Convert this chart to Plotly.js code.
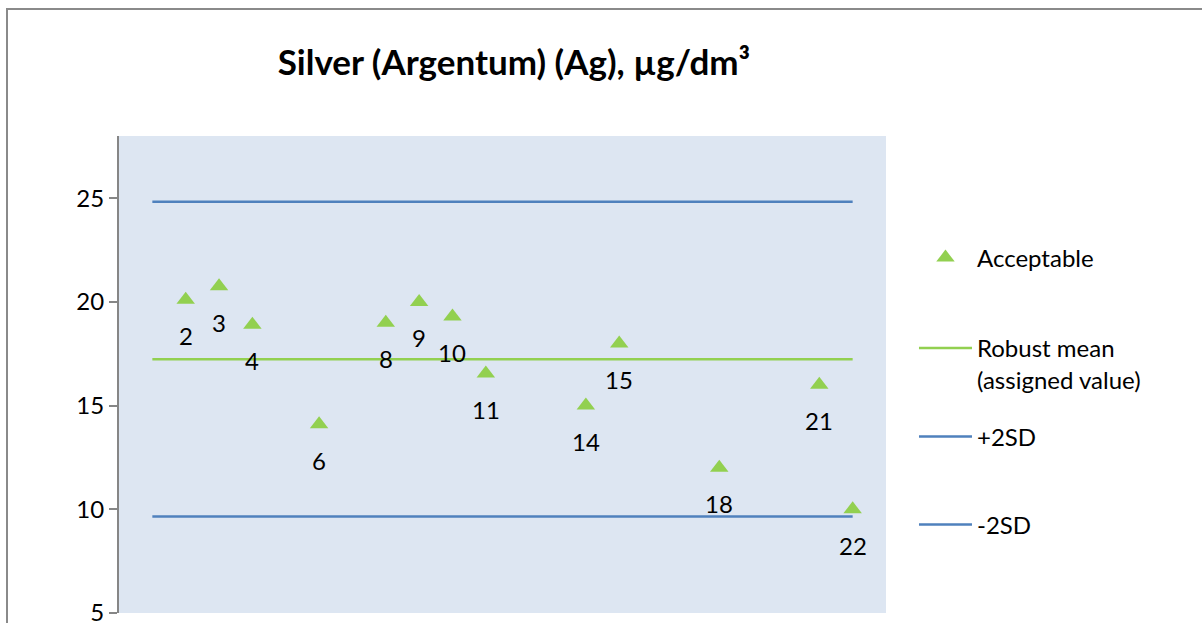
<!DOCTYPE html>
<html>
<head>
<meta charset="utf-8">
<script src="https://cdn.plot.ly/plotly-3.0.1.min.js"></script>
<style>
  html, body { margin: 0; padding: 0; background: #ffffff; overflow: hidden; }
  #wrap { position: relative; width: 1202px; height: 623px; }
  #chart { position: absolute; left: 0; top: 0; width: 1202px; height: 623px; }
  #frame { position: absolute; left: 6px; top: 8px; width: 1300px; height: 700px;
           border-left: 2px solid #8a8a8a; border-top: 2px solid #8a8a8a; pointer-events: none; }
</style>
</head>
<body>
<div id="wrap">
  <div id="chart"></div>
  <div id="frame"></div>
</div>
<script>
// ---- data ----
const labNumbers = [2, 3, 4, 6, 8, 9, 10, 11, 14, 15, 18, 21, 22];
const labValues  = [20.1, 20.75, 18.9, 14.1, 19.0, 20.0, 19.3, 16.55, 15.0, 18.0, 12.0, 16.0, 10.0];
const labTexts   = ["2", "3", "4", "6", "8", "9", "10", "11", "14", "15", "18", "21", "22"];
const lineX      = [1, 22];
const robustMean = 17.23;
const plus2SD    = 24.83;
const minus2SD   = 9.65;
const yTicks     = [5, 10, 15, 20, 25];

const FONT = "Lato, Carlito, Calibri, 'Open Sans', sans-serif";
const FS = 24;

const traces = [
  {
    x: labNumbers, y: labValues, type: "scatter", mode: "markers",
    name: "Acceptable",
    marker: { symbol: "triangle-up", size: 16, color: "#92d050" },
    legend: "legend", hoverinfo: "x+y"
  },
  {
    x: lineX, y: lineX.map(() => robustMean), type: "scatter", mode: "lines",
    name: "Robust mean<br>(assigned value)",
    line: { color: "#92d050", width: 2.5 },
    legend: "legend2"
  },
  {
    x: lineX, y: lineX.map(() => plus2SD), type: "scatter", mode: "lines",
    name: "+2SD",
    line: { color: "#4f81bd", width: 2.5 },
    legend: "legend3"
  },
  {
    x: lineX, y: lineX.map(() => minus2SD), type: "scatter", mode: "lines",
    name: "-2SD",
    line: { color: "#4f81bd", width: 2.5 },
    legend: "legend4"
  }
];

const annotations = labNumbers.map((n, i) => ({
  x: n, y: labValues[i], xref: "x", yref: "y",
  text: labTexts[i], showarrow: false,
  yshift: -36, xanchor: "center", yanchor: "middle",
  font: { family: FONT, size: FS, color: "#000000" }
}));

const legBase = {
  x: (914 - 118.5) / 767.5, xanchor: "left", yanchor: "middle",
  bgcolor: "rgba(0,0,0,0)", borderwidth: 0,
  font: { family: FONT, size: FS, color: "#000000" },
  itemwidth: 53, valign: "top"
};

const layout = {
  width: 1202, height: 623,
  margin: { l: 118.5, r: 316, t: 136, b: 10, pad: 0 },
  paper_bgcolor: "rgba(0,0,0,0)",
  plot_bgcolor: "#dde6f2",
  font: { family: FONT, size: FS, color: "#000000" },
  title: {
    text: "<b>Silver (Argentum) (Ag), µg/dm³</b>",
    font: { family: FONT, size: 35, color: "#000000" },
    x: 514 / 1202, xanchor: "center", xref: "container",
    y: 1 - 63 / 623, yanchor: "middle", yref: "container"
  },
  xaxis: {
    range: [0, 23], showgrid: false, zeroline: false,
    showline: false, showticklabels: false, ticks: ""
  },
  yaxis: {
    range: [5, 28], showgrid: false, zeroline: false,
    showline: true, linecolor: "#868686", linewidth: 2,
    ticks: "outside", ticklen: 8, tickwidth: 2, tickcolor: "#868686",
    tickvals: yTicks, ticktext: yTicks.map(String),
    ticklabeloverflow: "allow",
    tickfont: { family: FONT, size: FS, color: "#000000" }
  },
  showlegend: true,
  legend:  Object.assign({}, legBase, { y: (613 - 258) / 477 }),
  legend2: Object.assign({}, legBase, { y: (613 - 364) / 477 }),
  legend3: Object.assign({}, legBase, { y: (613 - 437) / 477 }),
  legend4: Object.assign({}, legBase, { y: (613 - 525) / 477 }),
  annotations: annotations
};

Plotly.newPlot("chart", traces, layout, { staticPlot: true, displayModeBar: false });
</script>
</body>
</html>
